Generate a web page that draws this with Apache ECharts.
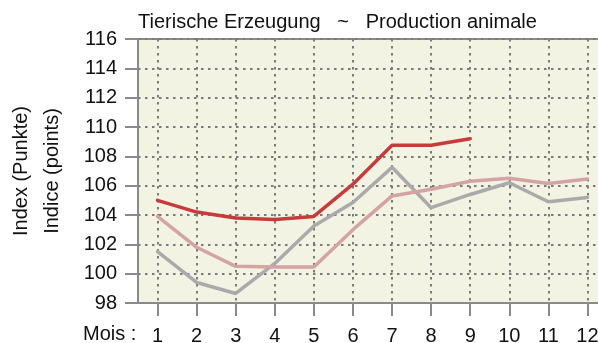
<!DOCTYPE html>
<html>
<head>
<meta charset="utf-8">
<script src="https://cdn.jsdelivr.net/npm/echarts@6/dist/echarts.min.js"></script>
<style>
  html, body { margin: 0; padding: 0; background: #ffffff; }
  #chart { width: 598px; height: 343px; }
</style>
</head>
<body>
<div id="chart"></div>
<script>
// Months on the x axis
const months = ['1', '2', '3', '4', '5', '6', '7', '8', '9', '10', '11', '12'];

// Index values (points) per month
const currentYear = [105.0, 104.2, 103.8, 103.7, 103.9, 106.1, 108.75, 108.75, 109.2];
const previousYear = [103.9, 101.8, 100.5, 100.45, 100.45, 103.0, 105.3, 105.75, 106.3, 106.5, 106.15, 106.45];
const twoYearsAgo = [101.5, 99.4, 98.65, 100.7, 103.25, 104.85, 107.25, 104.5, 105.4, 106.2, 104.9, 105.2];

const yTicks = { min: 98, max: 116, step: 2 };

const titleText = 'Tierische Erzeugung   ~   Production animale';
const yNameLines = ['Index (Punkte)', 'Indice (points)'];
const xPrefix = 'Mois :';

const FONT = '"Liberation Sans", Arial, sans-serif';
const AXIS_GREY = '#8a8a8a';
const GRID_DOT = '#7a7a7a';

const chart = echarts.init(document.getElementById('chart'), null, { renderer: 'canvas' });

function lineSeries(name, data, color, z) {
  return {
    name: name,
    type: 'line',
    data: data,
    symbol: 'none',
    z: z,
    lineStyle: { color: color, width: 3.5, cap: 'round', join: 'round' },
    animation: false
  };
}

chart.setOption({
  animation: false,
  backgroundColor: '#ffffff',
  title: {
    text: titleText,
    left: 138,
    top: 12,
    padding: 0,
    textStyle: { fontFamily: FONT, fontSize: 20, fontWeight: 'normal', color: '#111111' }
  },
  // plot area runs slightly past the right edge of the canvas
  grid: {
    left: 138,
    top: 39,
    bottom: 40,
    right: -9,
    outerBoundsMode: 'none',
    show: true,
    backgroundColor: '#f3f3e3',
    borderColor: AXIS_GREY,
    borderWidth: 2,
    containLabel: false
  },
  xAxis: {
    type: 'category',
    data: months,
    boundaryGap: true,
    axisLine: { show: true, lineStyle: { color: AXIS_GREY, width: 2 } },
    axisTick: { show: true, alignWithLabel: true, length: 13, lineStyle: { color: AXIS_GREY, width: 2 } },
    axisLabel: { fontFamily: FONT, fontSize: 20, color: '#111111', margin: 23 },
    splitLine: { show: true, alignWithLabel: true, lineStyle: { color: GRID_DOT, width: 2, type: [2.5, 4.5] } }
  },
  yAxis: {
    type: 'value',
    min: yTicks.min,
    max: yTicks.max,
    interval: yTicks.step,
    axisLine: { show: true, lineStyle: { color: AXIS_GREY, width: 2 } },
    axisTick: { show: true, length: 13, lineStyle: { color: AXIS_GREY, width: 2 } },
    axisLabel: { fontFamily: FONT, fontSize: 20, color: '#111111', margin: 21 },
    splitLine: { show: true, lineStyle: { color: GRID_DOT, width: 2, type: [2.5, 4.5] } }
  },
  graphic: [
    {
      type: 'text',
      left: 83,
      top: 324,
      style: { text: xPrefix, font: '20px ' + FONT, fill: '#111111' }
    },
    {
      type: 'text',
      x: 21,
      y: 171,
      rotation: Math.PI / 2,
      style: { text: yNameLines[0], font: '20px ' + FONT, fill: '#111111', align: 'center', verticalAlign: 'middle' }
    },
    {
      type: 'text',
      x: 52,
      y: 171,
      rotation: Math.PI / 2,
      style: { text: yNameLines[1], font: '20px ' + FONT, fill: '#111111', align: 'center', verticalAlign: 'middle' }
    }
  ],
  series: [
    lineSeries('twoYearsAgo', twoYearsAgo, '#aaaaaa', 2),
    lineSeries('previousYear', previousYear, '#d4a3a3', 3),
    lineSeries('currentYear', currentYear, '#c63c3d', 4)
  ]
});
</script>
</body>
</html>
